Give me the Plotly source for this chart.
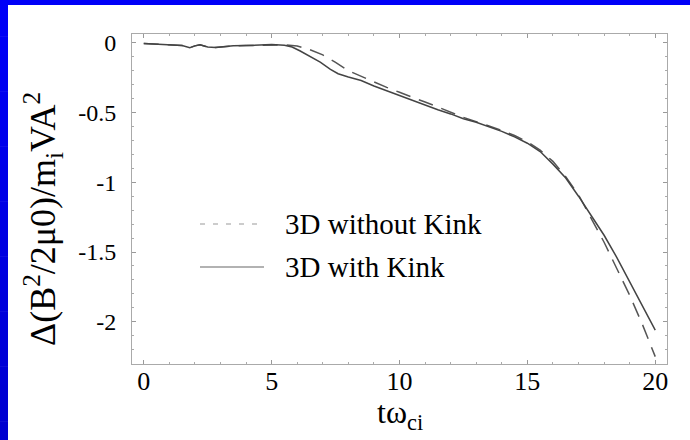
import plotly.graph_objects as go

# --- data -------------------------------------------------------------
# magnetic energy change vs. normalised time, run with kink
t_kink = [0, 0.5, 1.0, 1.5, 1.8, 2.0, 2.2, 2.5, 2.8, 3.2, 3.5, 4.0, 4.5, 5.0,
          5.5, 5.8, 6.1, 6.5, 6.9, 7.3, 7.6, 8.0, 8.5, 9.0, 9.5, 10.0, 10.5,
          11.0, 11.5, 12.0, 12.5, 13.0, 13.5, 14.0, 14.5, 15.0, 15.5, 16.0,
          16.5, 17.0, 17.5, 18.0, 18.5, 19.0, 19.5, 20.0]
e_kink = [-0.005, -0.010, -0.013, -0.020, -0.035, -0.022, -0.015, -0.030,
          -0.033, -0.025, -0.022, -0.020, -0.017, -0.013, -0.018, -0.030,
          -0.057, -0.095, -0.139, -0.190, -0.222, -0.245, -0.270, -0.310,
          -0.345, -0.375, -0.410, -0.445, -0.480, -0.510, -0.545, -0.570,
          -0.600, -0.635, -0.675, -0.720, -0.780, -0.870, -0.970, -1.100,
          -1.240, -1.380, -1.540, -1.710, -1.880, -2.060]

# run without kink
t_nokink = [0, 0.5, 1.0, 1.5, 1.8, 2.0, 2.2, 2.5, 2.8, 3.2, 3.5, 4.0, 4.5,
            5.0, 5.5, 6.0, 6.5, 7.0, 7.5, 8.0, 8.5, 9.0, 9.5, 10.0, 10.5,
            11.0, 11.5, 12.0, 12.5, 13.0, 13.5, 14.0, 14.5, 15.0, 15.5, 16.0,
            16.5, 17.0, 17.5, 18.0, 18.5, 19.0, 19.5, 20.0]
e_nokink = [-0.005, -0.010, -0.013, -0.020, -0.035, -0.022, -0.015, -0.030,
            -0.033, -0.025, -0.022, -0.020, -0.017, -0.013, -0.015, -0.023,
            -0.050, -0.087, -0.140, -0.200, -0.240, -0.283, -0.320, -0.355,
            -0.388, -0.425, -0.460, -0.500, -0.535, -0.565, -0.595, -0.628,
            -0.665, -0.710, -0.770, -0.850, -0.960, -1.090, -1.260, -1.430,
            -1.620, -1.810, -2.020, -2.250]

x_ticks = [0, 5, 10, 15, 20]
y_ticks = [0, -0.5, -1, -1.5, -2]
y_ticktext = ["0", "-0.5", "-1", "-1.5", "-2"]

series_names = ["3D without Kink", "3D with Kink"]

# --- layout geometry (pixels) -----------------------------------------
W, H = 690, 440
L, R, T, B = 132, 23, 34, 76
PW, PH = W - L - R, H - T - B


def px_x(px):
    return (px - L) / PW


def px_y(py):
    return (H - B - py) / PH


FONT = "Liberation Serif, Times New Roman, serif"

fig = go.Figure()

fig.add_trace(go.Scatter(
    x=t_nokink, y=e_nokink, mode="lines", name=series_names[0],
    line=dict(color="#555555", width=1.5, dash="15px,9px"),
    showlegend=False,
))
fig.add_trace(go.Scatter(
    x=t_kink, y=e_kink, mode="lines", name=series_names[1],
    line=dict(color="#444444", width=1.5),
    showlegend=False,
))

shapes = []
# blue frame strips along the top and left edge of the page
shapes.append(dict(type="rect", xref="paper", yref="paper",
                   x0=px_x(0), x1=px_x(W), y0=px_y(5), y1=px_y(0),
                   fillcolor="#0000f8", line=dict(width=0), layer="below"))
n_steps = 24
for i in range(n_steps):
    y0 = H * i / n_steps
    y1 = H * (i + 1) / n_steps
    frac = i / (n_steps - 1)
    b = int(round(248 - frac * (248 - 208)))
    shapes.append(dict(type="rect", xref="paper", yref="paper",
                       x0=px_x(0), x1=px_x(8), y0=px_y(y1), y1=px_y(y0 - 0.5),
                       fillcolor=f"rgb(0,0,{b})", line=dict(width=0),
                       layer="below"))

# legend samples
shapes.append(dict(type="line", xref="paper", yref="paper",
                   x0=px_x(200), x1=px_x(264), y0=px_y(224), y1=px_y(224),
                   line=dict(color="#999999", width=1.2, dash="5px,8px")))
shapes.append(dict(type="line", xref="paper", yref="paper",
                   x0=px_x(200), x1=px_x(264), y0=px_y(267), y1=px_y(267),
                   line=dict(color="#999999", width=1.5)))

annotations = [
    dict(text=series_names[0], xref="paper", yref="paper",
         x=px_x(283), y=px_y(224), xanchor="left", yanchor="middle",
         showarrow=False, font=dict(family=FONT, size=29, color="black")),
    dict(text=series_names[1], xref="paper", yref="paper",
         x=px_x(283), y=px_y(267), xanchor="left", yanchor="middle",
         showarrow=False, font=dict(family=FONT, size=29, color="black")),
    # axis titles
    dict(text="tω<sub>ci</sub>", xref="paper", yref="paper",
         x=px_x(400), y=px_y(414), xanchor="center", yanchor="middle",
         showarrow=False, font=dict(family=FONT, size=32, color="black")),
    dict(text="Δ(B<sup>2</sup>/2μ0)/m<sub>i</sub>VA<sup>2</sup>",
         xref="paper", yref="paper", textangle=-90,
         x=px_x(43), y=px_y(219), xanchor="center", yanchor="middle",
         showarrow=False, font=dict(family=FONT, size=36, color="black")),
]

axis_common = dict(
    showgrid=False, zeroline=False, showline=True, linecolor="#aaaaaa",
    linewidth=1, mirror="allticks", ticks="inside", ticklen=4, tickwidth=1,
    tickcolor="#999999", automargin=False,
)

fig.update_layout(
    width=W, height=H,
    margin=dict(l=L, r=R, t=T, b=B, pad=0),
    paper_bgcolor="white", plot_bgcolor="white",
    font=dict(family=FONT, color="black"),
    showlegend=False,
    shapes=shapes,
    annotations=annotations,
    xaxis=dict(
        range=[-0.46, 20.46], tickvals=x_ticks,
        tickfont=dict(family=FONT, size=26, color="black"),
        minor=dict(dtick=1, tick0=0, ticks="inside", ticklen=2,
                   tickcolor="#aaaaaa", showgrid=False),
        ticklabelstandoff=-6,
        **axis_common,
    ),
    yaxis=dict(
        range=[-2.303, 0.063], tickvals=y_ticks, ticktext=y_ticktext,
        tickfont=dict(family=FONT, size=24, color="black"),
        minor=dict(dtick=0.1, tick0=0, ticks="inside", ticklen=2,
                   tickcolor="#aaaaaa", showgrid=False),
        ticklabelstandoff=10,
        **axis_common,
    ),
)

fig.write_html("out.html")
